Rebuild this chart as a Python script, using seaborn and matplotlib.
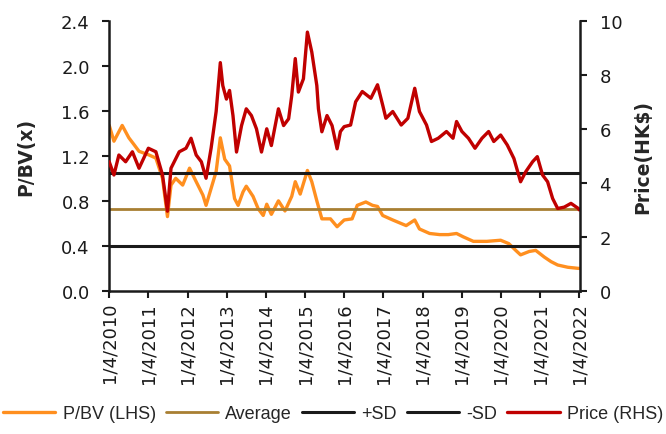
import matplotlib
matplotlib.use("Agg")
import matplotlib.pyplot as plt
import seaborn as sns
import pandas as pd

# P/BV (left axis)
pb_dates = ['2010-01-04', '2010-02-17', '2010-05-05', '2010-07-06', '2010-08-23', '2010-10-09',
            '2011-01-04', '2011-03-15', '2011-05-16', '2011-07-01', '2011-08-03', '2011-09-16',
            '2011-11-20', '2012-01-23', '2012-03-25', '2012-05-27', '2012-06-25', '2012-08-11',
            '2012-09-27', '2012-11-05', '2012-12-16', '2013-01-30', '2013-03-18', '2013-04-20',
            '2013-06-05', '2013-07-05', '2013-09-06', '2013-10-24', '2013-12-10', '2014-01-12',
            '2014-02-24', '2014-05-01', '2014-07-01', '2014-09-02', '2014-10-05', '2014-11-20',
            '2015-01-26', '2015-03-08', '2015-04-24', '2015-06-10', '2015-08-29', '2015-10-30',
            '2016-01-04', '2016-03-18', '2016-05-05', '2016-07-24', '2016-09-24', '2016-11-10',
            '2016-12-28', '2017-04-01', '2017-08-04', '2017-10-23', '2017-12-06', '2018-03-11',
            '2018-06-13', '2018-09-01', '2018-11-17', '2019-01-19', '2019-04-23', '2019-08-26',
            '2020-01-02', '2020-03-18', '2020-05-22', '2020-07-06', '2020-09-24', '2020-11-24',
            '2021-02-13', '2021-04-16', '2021-06-17', '2021-09-19', '2021-12-27', '2022-01-04']
pb_values = [1.47, 1.33, 1.47, 1.36, 1.30, 1.24,
             1.21, 1.18, 1.00, 0.66, 0.94, 1.00,
             0.94, 1.09, 0.97, 0.85, 0.76, 0.91,
             1.06, 1.36, 1.17, 1.11, 0.82, 0.76,
             0.88, 0.93, 0.84, 0.73, 0.67, 0.77,
             0.68, 0.80, 0.71, 0.84, 0.97, 0.86,
             1.07, 0.97, 0.80, 0.64, 0.64, 0.57,
             0.63, 0.64, 0.76, 0.79, 0.76, 0.75,
             0.67, 0.63, 0.58, 0.63, 0.55, 0.51,
             0.50, 0.50, 0.51, 0.48, 0.44, 0.44,
             0.45, 0.42, 0.36, 0.32, 0.35, 0.36,
             0.30, 0.26, 0.23, 0.21, 0.20, 0.20]

# Share price (right axis)
px_dates = ['2010-01-04', '2010-02-17', '2010-04-04', '2010-06-06', '2010-08-08', '2010-10-09',
            '2011-01-04', '2011-03-15', '2011-05-16', '2011-07-01', '2011-08-03', '2011-10-19',
            '2011-12-21', '2012-02-06', '2012-03-25', '2012-05-12', '2012-06-25', '2012-08-11',
            '2012-09-27', '2012-11-05', '2012-11-28', '2013-01-01', '2013-01-30', '2013-03-03',
            '2013-04-05', '2013-05-22', '2013-07-05', '2013-08-22', '2013-10-08', '2013-11-24',
            '2014-01-12', '2014-02-24', '2014-05-01', '2014-06-18', '2014-08-04', '2014-09-02',
            '2014-10-05', '2014-11-03', '2014-12-20', '2015-01-26', '2015-03-08', '2015-04-24',
            '2015-05-09', '2015-06-10', '2015-07-28', '2015-09-13', '2015-10-30', '2015-11-30',
            '2016-01-04', '2016-03-04', '2016-04-20', '2016-06-21', '2016-09-09', '2016-11-10',
            '2016-12-28', '2017-01-27', '2017-04-01', '2017-06-19', '2017-08-20', '2017-10-23',
            '2017-12-06', '2018-02-10', '2018-03-28', '2018-05-30', '2018-08-15', '2018-10-15',
            '2018-11-17', '2019-01-06', '2019-03-08', '2019-05-08', '2019-07-12', '2019-09-12',
            '2019-10-30', '2020-01-02', '2020-03-04', '2020-05-05', '2020-07-06', '2020-08-23',
            '2020-10-26', '2020-12-09', '2021-01-27', '2021-03-15', '2021-05-01', '2021-06-17',
            '2021-08-17', '2021-10-19', '2021-12-27', '2022-01-04']
px_values = [4.78, 4.29, 5.03, 4.78, 5.15, 4.54,
             5.28, 5.15, 4.29, 2.95, 4.54, 5.15,
             5.28, 5.65, 5.03, 4.78, 4.17, 5.28,
             6.64, 8.45, 7.60, 7.10, 7.42, 6.49,
             5.14, 6.12, 6.74, 6.49, 6.00, 5.14,
             6.00, 5.38, 6.74, 6.12, 6.37, 7.23,
             8.60, 7.36, 7.85, 9.58, 8.84, 7.60,
             6.74, 5.89, 6.49, 6.12, 5.26, 5.90,
             6.08, 6.14, 7.00, 7.38, 7.13, 7.63,
             6.88, 6.39, 6.64, 6.14, 6.39, 7.50,
             6.64, 6.14, 5.53, 5.65, 5.90, 5.65,
             6.27, 5.90, 5.65, 5.28, 5.65, 5.90,
             5.53, 5.77, 5.40, 4.90, 4.04, 4.41,
             4.78, 4.97, 4.29, 4.04, 3.42, 3.05,
             3.10, 3.24, 3.05, 3.00]

pb_average = 0.73
pb_plus_sd = 1.045
pb_minus_sd = 0.40

years = list(range(2010, 2023))
tick_labels = [f'1/4/{y}' for y in years]

pb_df = pd.DataFrame({'date': pd.to_datetime(pb_dates), 'pb': pb_values})
px_df = pd.DataFrame({'date': pd.to_datetime(px_dates), 'price': px_values})

sns.set_style("ticks")
plt.rcParams['font.family'] = ['DejaVu Sans']

fig = plt.figure(figsize=(6.66, 4.35), dpi=100)
ax = fig.add_axes([0.164, 0.329, 0.707, 0.621])
ax2 = ax.twinx()

sns.lineplot(data=pb_df, x='date', y='pb', ax=ax, color='#FF8F1F', linewidth=2.4, legend=False)
l_pb = ax.get_lines()[-1]
l_avg = ax.axhline(pb_average, color='#A87F32', linewidth=2)
l_psd = ax.axhline(pb_plus_sd, color='#1a1a1a', linewidth=2.2)
l_msd = ax.axhline(pb_minus_sd, color='#1a1a1a', linewidth=2.2)
sns.lineplot(data=px_df, x='date', y='price', ax=ax2, color='#C00000', linewidth=2.4, legend=False)
l_px = ax2.get_lines()[-1]

ax.set_xlim(pd.Timestamp('2010-01-04'), pd.Timestamp('2022-01-12'))
ax.set_ylim(0, 2.4)
ax2.set_ylim(0, 10)
ax.set_yticks([0, 0.4, 0.8, 1.2, 1.6, 2.0, 2.4])
ax.set_yticklabels([f'{v:.1f}' for v in [0, 0.4, 0.8, 1.2, 1.6, 2.0, 2.4]])
ax2.set_yticks([0, 2, 4, 6, 8, 10])
ax.set_xticks(pd.to_datetime([f'{y}-01-04' for y in years]))
ax.set_xticklabels(tick_labels, rotation=90)

for a in (ax, ax2):
    for s in a.spines.values():
        s.set_visible(False)
    a.tick_params(colors='#1a1a1a', labelsize=13, length=5, width=1.5, pad=9)
ax.spines['left'].set_visible(True)
ax.spines['bottom'].set_visible(True)
ax2.spines['right'].set_visible(True)
for s in (ax.spines['left'], ax.spines['bottom'], ax2.spines['right']):
    s.set_linewidth(1.8)
    s.set_color('#1a1a1a')
ax.tick_params(axis='x', pad=3)

ax.set_xlabel('')
ax.set_ylabel('P/BV(x)', fontsize=13.5, fontweight='bold')
ax2.set_ylabel('Price(HK$)', fontsize=13.5, fontweight='bold')
ax.yaxis.set_label_coords(-0.158, 0.5)
ax2.yaxis.set_label_coords(1.112, 0.5)

fig.legend([l_pb, l_avg, l_psd, l_msd, l_px],
           ['P/BV (LHS)', 'Average', '+SD', '-SD', 'Price (RHS)'],
           loc='center', bbox_to_anchor=(0.5, 0.046), ncol=5, frameon=False,
           prop={'family': 'Liberation Sans', 'size': 13},
           handlelength=2.9, handletextpad=0.4, columnspacing=0.55)

fig.savefig('out.png', dpi=100)
